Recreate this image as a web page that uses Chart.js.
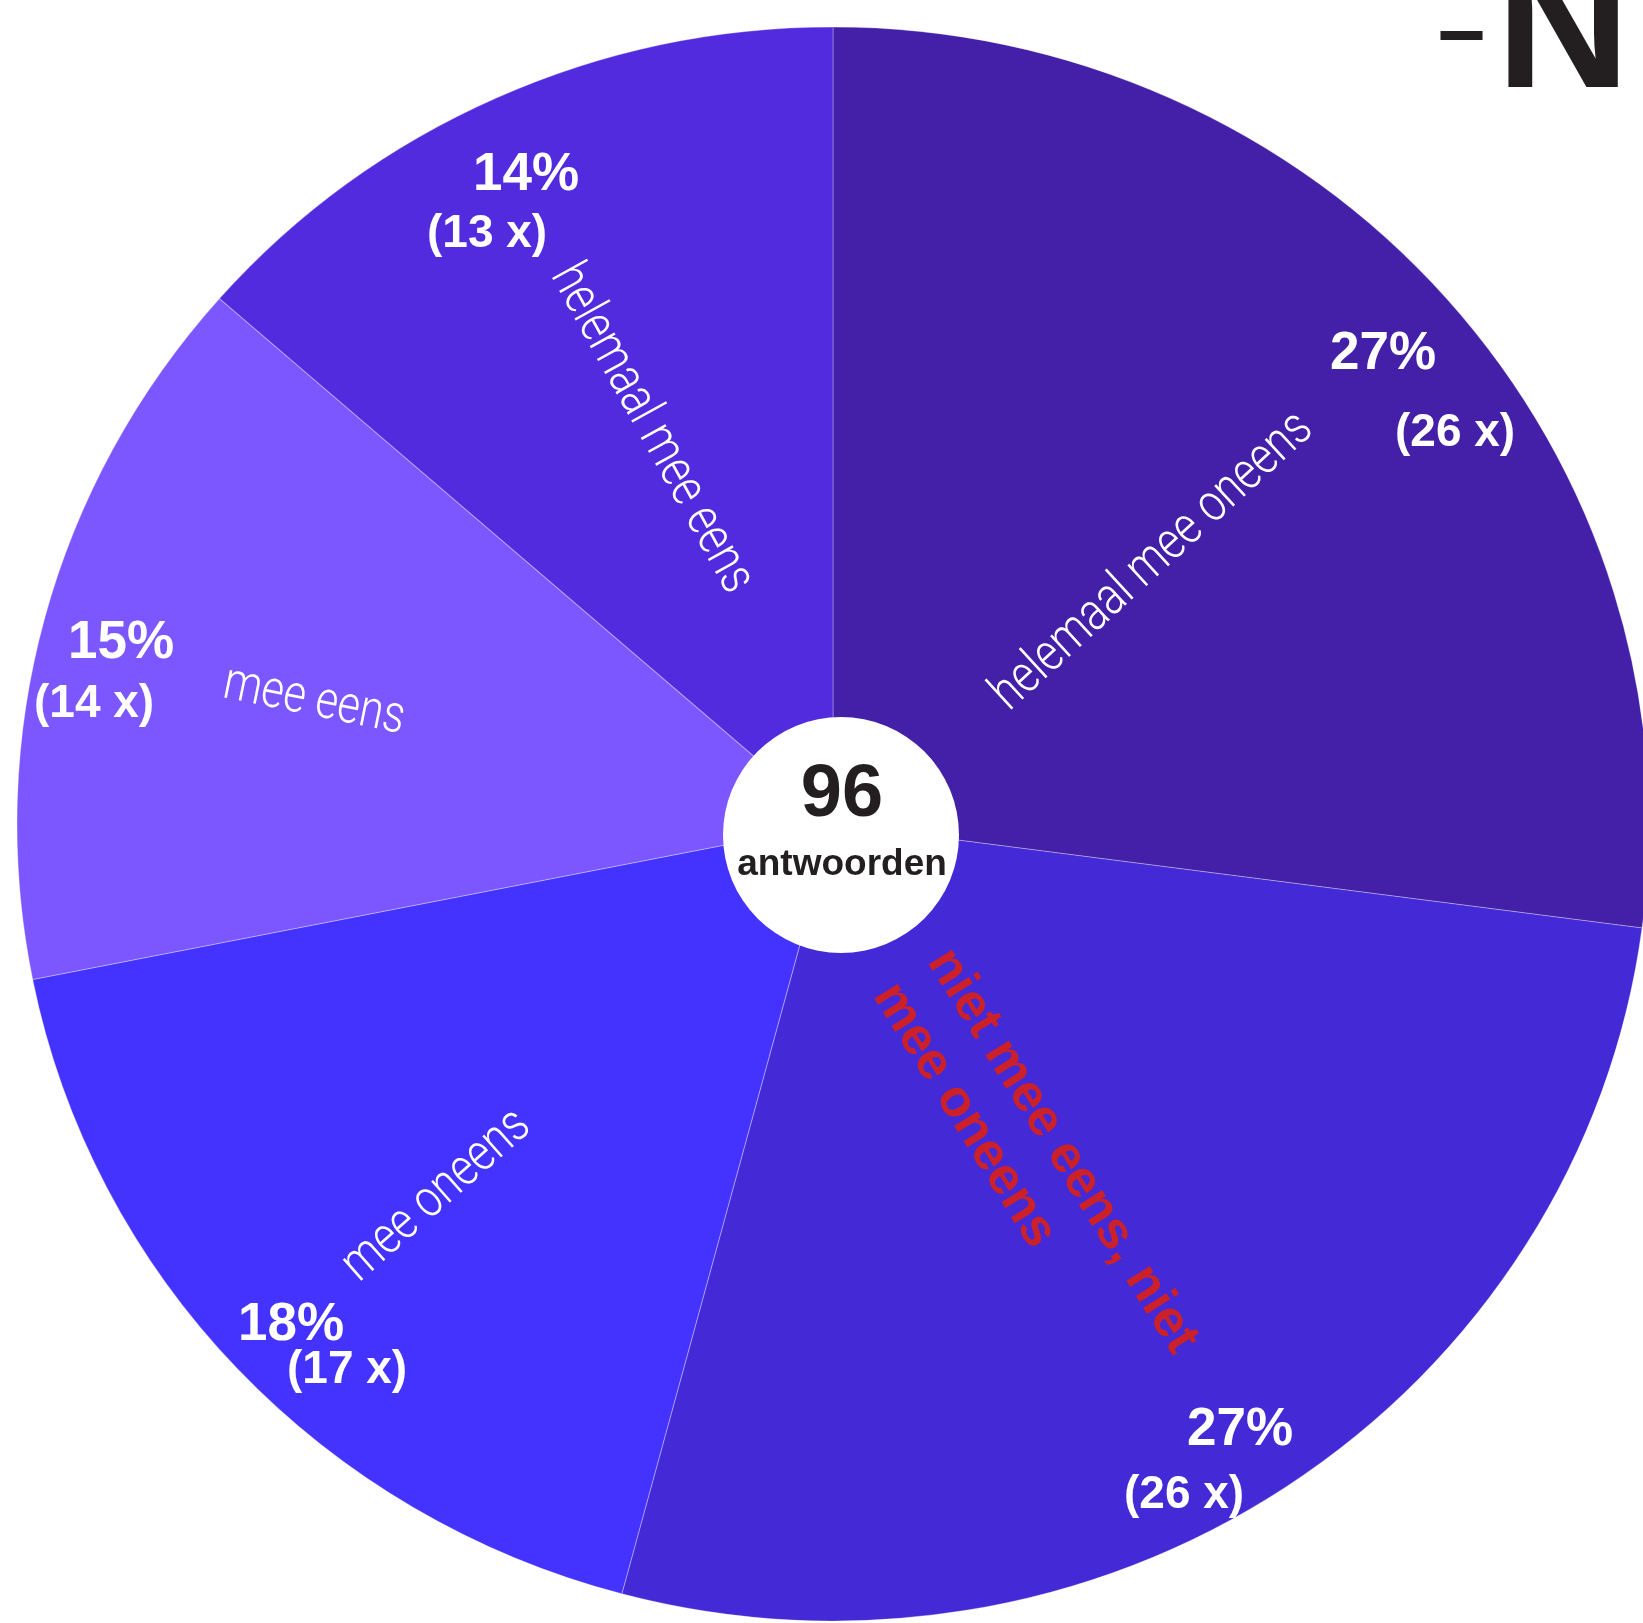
<!DOCTYPE html>
<html lang="nl">
<head>
<meta charset="utf-8">
<title>96 antwoorden</title>
<script src="https://cdn.jsdelivr.net/npm/chart.js@4.4.1/dist/chart.umd.min.js"></script>
<style>
  html, body { margin: 0; padding: 0; background: #fff; overflow: hidden; }
  #pieChart { display: block; }
</style>
</head>
<body>
<canvas id="pieChart" width="1643" height="1623"></canvas>
<script>
// --- Data ---
const categories = ['helemaal mee oneens', 'niet mee eens, niet mee oneens', 'mee oneens', 'mee eens', 'helemaal mee eens'];
const counts = [26, 26, 17, 14, 13];
const centerCaption = 'antwoorden';
const logoParts = ['-', 'N'];

const totalAnswers = counts.reduce((a, b) => a + b, 0);
const percentLabels = counts.map(c => Math.round(c / totalAnswers * 100) + '%');
const countLabels = counts.map(c => '(' + c + ' x)');

// --- Styles / placement ---
const sliceColors = ['#4420A8', '#4429D6', '#4433FF', '#7C57FF', '#532BDF'];
const ink = '#231F20';
const stretchX = 816 / 797; // the original pie is a little wider than tall

// label spots, same order as categories
const nameSpots = [
    { x: 1153, y: 562, angle: -42.5, lines: 1 },
    { x: 939, y: 954, angle: 58, lines: 2 },
    { x: 437, y: 1196, angle: -41.5, lines: 1 },
    { x: 314, y: 702, angle: 11.5, lines: 1 },
    { x: 651, y: 429, angle: 61, lines: 1 }
];
const pctSpots = [
    { px: 1330, py: 369, cx: 1395, cy: 446 },
    { px: 1187, py: 1445, cx: 1124, cy: 1508 },
    { px: 238, py: 1340, cx: 287, cy: 1383 },
    { px: 68, py: 658, cx: 34, cy: 717 },
    { px: 473, py: 190, cx: 427, cy: 247 }
];

function splitName(name) {
    // the long middle answer is written on two lines
    const cut = name.lastIndexOf(' mee ');
    return [name.slice(0, cut), name.slice(cut + 1)];
}

const ellipsePlugin = {
    id: 'ellipse',
    beforeDatasetsDraw(chart) {
        const arc = chart.getDatasetMeta(0).data[0];
        const ctx = chart.ctx;
        ctx.save();
        ctx.translate(arc.x, 0);
        ctx.scale(stretchX, 1);
        ctx.translate(-arc.x, 0);
    },
    afterDatasetsDraw(chart) {
        chart.ctx.restore();
    }
};

const labelPlugin = {
    id: 'labels',
    afterDraw(chart) {
        const ctx = chart.ctx;
        ctx.save();

        // slice names
        categories.forEach((name, i) => {
            const s = nameSpots[i];
            ctx.save();
            ctx.translate(s.x, s.y);
            ctx.rotate(s.angle * Math.PI / 180);
            ctx.textBaseline = 'middle';
            if (s.lines === 2) {
                ctx.fillStyle = '#CD2129';
                ctx.font = 'bold 52px "Liberation Sans", Arial, sans-serif';
                ctx.textAlign = 'left';
                splitName(name).forEach((line, k) => ctx.fillText(line, 0, k * 64));
            } else {
                ctx.fillStyle = '#ffffff';
                ctx.font = '300 53px Roboto, "Open Sans", sans-serif';
                ctx.textAlign = 'center';
                ctx.scale(0.815, 1);
                ctx.fillText(name, 0, 0);
            }
            ctx.restore();
        });

        // percentages and counts
        ctx.fillStyle = '#ffffff';
        ctx.textAlign = 'left';
        ctx.textBaseline = 'alphabetic';
        pctSpots.forEach((s, i) => {
            ctx.font = 'bold 53px "Liberation Sans", Arial, sans-serif';
            ctx.fillText(percentLabels[i], s.px, s.py);
            ctx.font = 'bold 46px "Liberation Sans", Arial, sans-serif';
            ctx.fillText(countLabels[i], s.cx, s.cy);
        });

        // white centre disc with the total
        ctx.beginPath();
        ctx.arc(841, 835, 118, 0, Math.PI * 2);
        ctx.fillStyle = '#ffffff';
        ctx.fill();
        ctx.fillStyle = ink;
        ctx.textAlign = 'center';
        ctx.font = 'bold 74px "Liberation Sans", Arial, sans-serif';
        ctx.fillText(String(totalAnswers), 842, 816);
        ctx.font = 'bold 37px "Liberation Sans", Arial, sans-serif';
        ctx.fillText(centerCaption, 842, 875);

        // logo fragment in the corner: thin dash, then a big N
        ctx.textAlign = 'left';
        ctx.font = 'bold 202px "Liberation Sans", Arial, sans-serif';
        ctx.save();
        ctx.translate(1434, 55);
        ctx.scale(0.82, 0.38);
        ctx.fillText(logoParts[0], 0, 0);
        ctx.restore();
        ctx.font = 'bold 186px "Liberation Sans", Arial, sans-serif';
        ctx.fillText(logoParts[1], 1496, 87);

        ctx.restore();
    }
};

new Chart(document.getElementById('pieChart'), {
    type: 'pie',
    data: {
        labels: categories,
        datasets: [{
            data: counts,
            backgroundColor: sliceColors,
            borderColor: 'rgba(255, 255, 255, 0.3)',
            borderWidth: 1,
            clip: false
        }]
    },
    options: {
        responsive: false,
        animation: false,
        layout: { padding: { left: 35.5, right: 12.5, top: 26.5, bottom: 1.5 } },
        plugins: {
            legend: { display: false },
            tooltip: { enabled: false }
        },
        events: []
    },
    plugins: [ellipsePlugin, labelPlugin]
});
</script>
</body>
</html>
